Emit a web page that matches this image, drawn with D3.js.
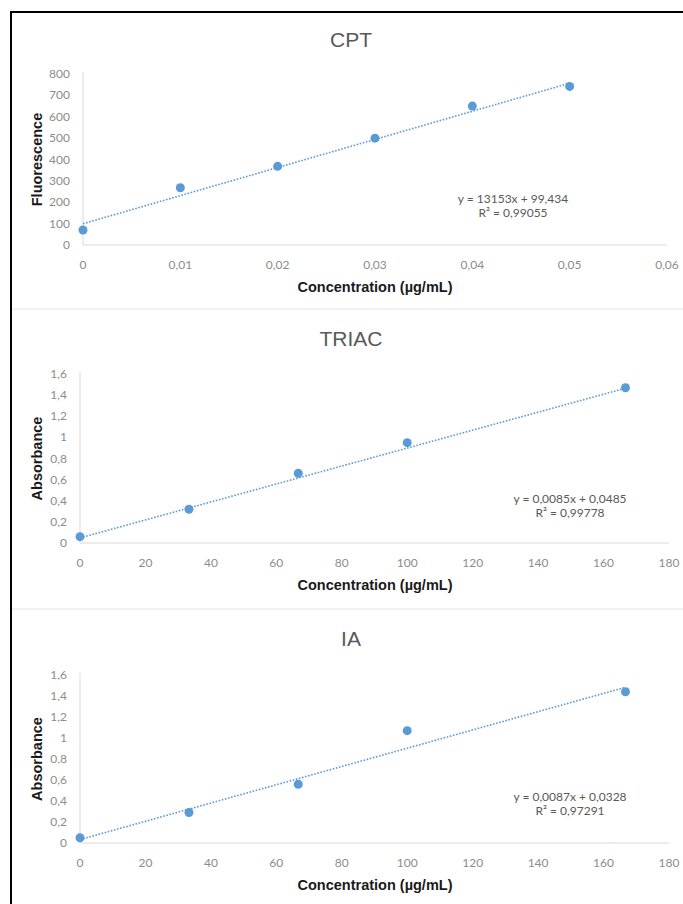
<!DOCTYPE html>
<html lang="en">
<head>
    <meta charset="UTF-8">
    <title>Calibration curves</title>
</head>
<script src="https://d3js.org/d3.v7.min.js"></script>
<style>
        body { margin:0; background:#fff; }
        .tick-label { font-family: Lato, "Open Sans", sans-serif; font-size:12px; fill:#8c8c8c; }
        .axis-title { font-family: "Liberation Sans", Arial, sans-serif; font-size:14.5px; font-weight:bold; fill:#1a1a1a; }
        .chart-title { font-family: "Liberation Sans", Arial, sans-serif; font-size:21px; fill:#595959; }
        .eq { font-family: Lato, "Open Sans", sans-serif; font-size:12px; fill:#595959; }
</style>
<body>
    <svg width=683 height=904></svg>

    <script>
        // values
        const cptConc = [0, 0.01, 0.02, 0.03, 0.04, 0.05];
        const cptFluor = [70, 268, 368, 500, 650, 742];
        const cptXTicks = [0, 0.01, 0.02, 0.03, 0.04, 0.05, 0.06];
        const cptYTicks = [0, 100, 200, 300, 400, 500, 600, 700, 800];
        const cptFit = { slope: 13153, intercept: 99.434, eq: "y = 13153x + 99,434", r2: "R² = 0,99055" };

        const triacConc = [0, 33.3, 66.7, 100, 166.7];
        const triacAbs = [0.06, 0.32, 0.66, 0.95, 1.47];
        const triacFit = { slope: 0.0085, intercept: 0.0485, eq: "y = 0,0085x + 0,0485", r2: "R² = 0,99778" };

        const iaConc = [0, 33.3, 66.7, 100, 166.7];
        const iaAbs = [0.05, 0.29, 0.56, 1.07, 1.44];
        const iaFit = { slope: 0.0087, intercept: 0.0328, eq: "y = 0,0087x + 0,0328", r2: "R² = 0,97291" };

        const absXTicks = [0, 20, 40, 60, 80, 100, 120, 140, 160, 180];
        const absYTicks = [0, 0.2, 0.4, 0.6, 0.8, 1, 1.2, 1.4, 1.6];

        const fmt = d3.formatLocale({decimal: ",", thousands: ".", grouping: [3], currency: ["", ""]}).format("~g");

        const svg = d3.select("svg");
        const blue = "#5b9bd5";

        // frame and separators
        svg.append("rect").attr("x", 11).attr("y", 12).attr("width", 700).attr("height", 920)
            .attr("fill", "none").attr("stroke", "#000").attr("stroke-width", 2);
        [309, 609].forEach(function(yy) {
            svg.append("line").attr("x1", 12).attr("x2", 683).attr("y1", yy).attr("y2", yy)
                .attr("stroke", "#ececec").attr("stroke-width", 1.5);
        });

        function drawPanel(p) {
            const x = d3.scaleLinear().domain([p.xTicks[0], p.xTicks[p.xTicks.length-1]]).range([p.left, p.right]);
            const y = d3.scaleLinear().domain([p.yTicks[0], p.yTicks[p.yTicks.length-1]]).range([p.bottom, p.top]);
            const g = svg.append("g");

            // axes lines
            g.append("line").attr("x1", p.left).attr("x2", p.left).attr("y1", p.top - 2).attr("y2", p.bottom)
                .attr("stroke", "#d9d9d9").attr("stroke-width", 1);
            g.append("line").attr("x1", p.left).attr("x2", p.right).attr("y1", p.bottom).attr("y2", p.bottom)
                .attr("stroke", "#d9d9d9").attr("stroke-width", 1);

            g.selectAll(".yt").data(p.yTicks).enter().append("text")
                .attr("class", "tick-label").attr("text-anchor", "end")
                .attr("x", p.left - 13).attr("y", function(d) { return y(d) + 4; })
                .text(function(d) { return fmt(d); });
            g.selectAll(".xt").data(p.xTicks).enter().append("text")
                .attr("class", "tick-label").attr("text-anchor", "middle")
                .attr("x", function(d) { return x(d); }).attr("y", p.bottom + 24)
                .text(function(d) { return fmt(d); });

            // titles
            g.append("text").attr("class", "chart-title").attr("text-anchor", "middle")
                .attr("x", 351).attr("y", p.titleY).text(p.title);
            g.append("text").attr("class", "axis-title").attr("text-anchor", "middle")
                .attr("x", 375).attr("y", p.bottom + 47).text("Concentration (µg/mL)");
            g.append("text").attr("class", "axis-title").attr("text-anchor", "middle")
                .attr("transform", "translate(42," + ((p.top + p.bottom) / 2) + ") rotate(-90)")
                .text(p.yLabel);

            // trendline
            const x0 = d3.min(p.xs), x1 = d3.max(p.xs);
            g.append("line")
                .attr("x1", x(x0)).attr("y1", y(p.fit.slope * x0 + p.fit.intercept))
                .attr("x2", x(x1)).attr("y2", y(p.fit.slope * x1 + p.fit.intercept))
                .attr("stroke", blue).attr("stroke-width", 1.6).attr("stroke-dasharray", "1.6,1.6");

            g.selectAll("circle").data(p.xs).enter().append("circle")
                .attr("cx", function(d) { return x(d); })
                .attr("cy", function(d, i) { return y(p.ys[i]); })
                .attr("r", 4.5).attr("fill", blue);

            g.append("text").attr("class", "eq").attr("text-anchor", "middle")
                .attr("x", p.eqX).attr("y", p.eqY).text(p.fit.eq);
            g.append("text").attr("class", "eq").attr("text-anchor", "middle")
                .attr("x", p.eqX).attr("y", p.eqY + 14).text(p.fit.r2);
        }

        drawPanel({ title: "CPT", yLabel: "Fluorescence", xs: cptConc, ys: cptFluor, fit: cptFit,
            xTicks: cptXTicks, yTicks: cptYTicks, left: 83, right: 667, top: 74, bottom: 245,
            titleY: 47, eqX: 513, eqY: 203 });
        drawPanel({ title: "TRIAC", yLabel: "Absorbance", xs: triacConc, ys: triacAbs, fit: triacFit,
            xTicks: absXTicks, yTicks: absYTicks, left: 80, right: 669, top: 374, bottom: 543,
            titleY: 346, eqX: 570, eqY: 503 });
        drawPanel({ title: "IA", yLabel: "Absorbance", xs: iaConc, ys: iaAbs, fit: iaFit,
            xTicks: absXTicks, yTicks: absYTicks, left: 80, right: 669, top: 675, bottom: 843,
            titleY: 646, eqX: 570, eqY: 801 });
    </script>
</body>
</html>
